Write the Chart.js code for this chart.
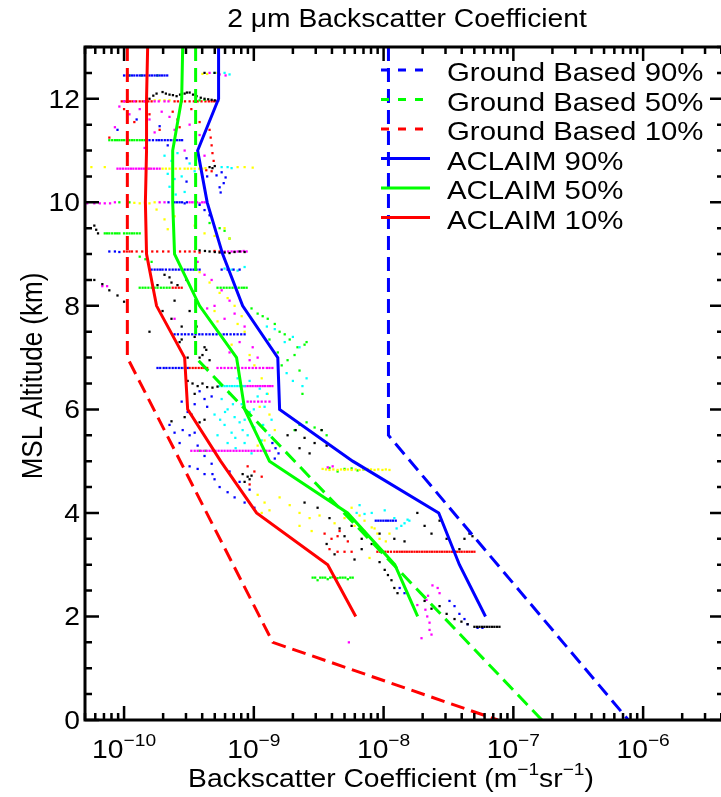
<!DOCTYPE html>
<html lang="en">
<head>
<meta charset="UTF-8" />
<title>2 µm Backscatter Coefficient</title>
<style>
    * { margin: 0; padding: 0; }
    body { width: 721px; height: 797px; overflow: hidden; background: #fff; }
    .chartBox { width: 730px; height: 797px; }
</style>
</head>
<body>
<div class="chartBox"><canvas id="myChart" width="730" height="797"></canvas></div>
<script src="https://cdn.jsdelivr.net/npm/chart.js@4.4.1/dist/chart.umd.min.js"></script>
<script>
    // altitude levels (km) of the ACLAIM profiles
    const aclaimAlt = [13, 12, 11, 10, 9, 8, 7, 6, 5, 4, 3, 2];
    const aclaim90 = [5.35e-10, 5.35e-10, 3.69e-10, 4.37e-10, 5.75e-10, 8.2e-10, 1.53e-9, 1.58e-9, 5.78e-9, 2.66e-8, 3.84e-8, 6.1e-8];
    const aclaim50 = [2.83e-10, 2.78e-10, 2.37e-10, 2.37e-10, 2.45e-10, 3.82e-10, 7.36e-10, 8.5e-10, 1.32e-9, 5.28e-9, 1.22e-8, 1.83e-8];
    const aclaim10 = [1.52e-10, 1.49e-10, 1.49e-10, 1.46e-10, 1.49e-10, 1.78e-10, 2.93e-10, 3.09e-10, 5.55e-10, 1.05e-9, 3.71e-9, 6.1e-9];

    // ground based model profiles
    const ground90Alt = [13, 5.5, 0];
    const ground90 = [1.09e-8, 1.09e-8, 7.7e-7];
    const ground50Alt = [13, 7, 0];
    const ground50 = [3.56e-10, 3.56e-10, 1.66e-7];
    const ground10Alt = [13, 7, 1.5, 0];
    const ground10 = [1.06e-10, 1.06e-10, 1.4e-9, 7.6e-8];

    const xTickLabels = ["10", "10", "10", "10", "10"];
    const xTickExps = ["\u221210", "\u22129", "\u22128", "\u22127", "\u22126"];
    const xTickValues = [1e-10, 1e-9, 1e-8, 1e-7, 1e-6];
    const yTickValues = [0, 2, 4, 6, 8, 10, 12];

    // individual flight measurements [backscatter, altitude]
    const ptsBlack = [
        [4.17e-10, 12.5], [4.98e-10, 12.5],
        [1.57e-10, 12.0], [1.78e-10, 12.1], [1.98e-10, 12.13], [2.24e-10, 12.08], [2.54e-10, 12.05], [2.93e-10, 12.1], [3.2e-10, 12.12], [3.62e-10, 12.05], [4.17e-10, 12.0], [4.73e-10, 11.98],
        [1.68e-10, 12.06], [2.1e-10, 12.1], [2.38e-10, 12.07], [2.7e-10, 12.08], [3.05e-10, 12.12], [3.4e-10, 12.08], [3.9e-10, 12.02], [4.45e-10, 11.99], [5.0e-10, 11.97], [5.3e-10, 11.96],
        [4.56e-10, 10.68], [5.0e-10, 10.7], [4.8e-10, 10.66],
        [5.9e-11, 9.55], [6.1e-11, 9.47], [6.3e-11, 9.4], [5.9e-11, 8.5], [6.8e-11, 8.42], [7.7e-11, 8.3], [8.9e-11, 8.2], [1.0e-10, 8.08],
        [3.82e-10, 9.07], [4.56e-10, 9.05], [5.45e-10, 9.03], [6.5e-10, 9.02], [7.77e-10, 9.05], [8.49e-10, 9.04],
        [4.2e-10, 9.06], [5.0e-10, 9.04], [5.95e-10, 9.03], [7.1e-10, 9.04],
        [2.05e-10, 8.6], [2.24e-10, 8.55], [1.81e-10, 8.4], [2.45e-10, 8.1], [3.2e-10, 7.9], [2.78e-10, 7.6], [3.5e-10, 7.4], [4.17e-10, 7.2], [2.68e-10, 7.3], [1.57e-10, 7.5], [3.82e-10, 7.0], [4.56e-10, 6.95],
        [1.98e-10, 7.9], [2.32e-10, 8.45], [2.58e-10, 8.4], [3.03e-10, 8.5], [3.62e-10, 7.6], [4.02e-10, 7.05], [4.3e-10, 7.15], [2.32e-10, 7.75], [2.78e-10, 7.35], [3.09e-10, 7.0],
        [3.37e-10, 6.5], [3.69e-10, 6.45], [4.02e-10, 6.5], [4.37e-10, 6.43], [4.8e-10, 6.42], [5.25e-10, 6.44], [3.5e-10, 6.3], [3.09e-10, 6.55],
        [2.93e-10, 5.85], [3.3e-10, 5.9], [3.82e-10, 5.75], [4.17e-10, 5.8], [2.32e-10, 5.77],
        [1.82e-9, 5.5], [2.1e-9, 5.6], [2.46e-9, 5.45], [2.94e-9, 5.35], [3.33e-9, 5.6], [3.64e-9, 5.3], [2.25e-9, 5.25], [2.69e-9, 5.15],
        [8.2e-10, 4.75], [8.96e-10, 4.7], [9.28e-10, 4.65], [9.6e-10, 4.72], [8.49e-10, 4.6],
        [2.46e-9, 4.2], [3.1e-9, 4.1], [3.83e-9, 3.9], [4.58e-9, 3.7], [5.67e-9, 3.75], [6.78e-9, 3.5], [8.1e-9, 3.4], [9.31e-9, 3.6], [1.21e-8, 3.5], [1.45e-8, 3.45],
        [1.82e-8, 4.0], [2.07e-8, 3.75], [2.34e-8, 3.6], [2.7e-8, 3.85], [3.06e-8, 3.5], [3.52e-8, 3.25], [4.2e-8, 3.5], [4.59e-8, 3.6], [4.84e-8, 3.55], [3.84e-8, 3.3],
        [9.31e-9, 3.05], [1.02e-8, 2.9], [1.08e-8, 2.8], [1.15e-8, 2.7], [1.21e-8, 2.55], [1.28e-8, 2.45],
        [2.07e-8, 2.3], [2.34e-8, 2.15], [2.7e-8, 2.2], [3.06e-8, 2.05], [3.52e-8, 1.95], [3.98e-8, 1.9], [4.44e-8, 1.85],
        [5.01e-8, 1.8], [5.48e-8, 1.8], [5.98e-8, 1.8], [6.54e-8, 1.8], [7.14e-8, 1.8], [7.81e-8, 1.8],
        [5.24e-8, 1.8], [5.73e-8, 1.8], [6.25e-8, 1.8], [6.84e-8, 1.8], [7.47e-8, 1.8],
        [3.64e-9, 3.4], [4.19e-9, 3.2], [5.0e-9, 3.55], [5.97e-9, 3.1], [6.78e-9, 3.3]
    ];
    const ptsBlue = [
        [1.0e-10, 12.45], [1.1e-10, 12.45], [1.2e-10, 12.45], [1.32e-10, 12.45], [1.44e-10, 12.45], [1.57e-10, 12.45], [1.72e-10, 12.45], [1.88e-10, 12.45], [2.05e-10, 12.45],
        [1.05e-10, 12.45], [1.15e-10, 12.45], [1.26e-10, 12.45], [1.38e-10, 12.45], [1.5e-10, 12.45], [1.64e-10, 12.45], [1.8e-10, 12.45], [1.96e-10, 12.45], [2.15e-10, 12.45],
        [1.57e-10, 11.2], [1.78e-10, 11.2], [1.95e-10, 11.2], [2.17e-10, 11.2], [2.41e-10, 11.2], [2.68e-10, 11.2],
        [1.5e-10, 11.2], [1.67e-10, 11.2], [1.86e-10, 11.2], [2.06e-10, 11.2], [2.29e-10, 11.2], [2.55e-10, 11.2], [2.8e-10, 11.2],
        [1.25e-10, 11.6], [1.88e-10, 11.47], [2.17e-10, 11.1], [3.03e-10, 10.85], [4.37e-10, 10.5], [8.9e-11, 11.4], [3.03e-10, 10.4],
        [5.16e-10, 10.52], [5.65e-10, 10.58], [6.06e-10, 10.48], [5.86e-10, 10.37], [5.45e-10, 10.29], [5.55e-10, 10.19],
        [2.45e-10, 10.0], [2.68e-10, 10.0], [2.93e-10, 9.98], [2.2e-10, 10.0], [2.56e-10, 10.0], [2.8e-10, 10.0], [3.05e-10, 10.0],
        [7.7e-11, 9.05], [8.5e-11, 9.05], [9.2e-11, 9.04],
        [3.82e-10, 9.95], [4.17e-10, 9.85], [4.56e-10, 9.75],
        [1.63e-10, 8.7], [1.81e-10, 8.7], [1.98e-10, 8.7], [2.24e-10, 8.7], [2.5e-10, 8.7], [2.78e-10, 8.7], [3.09e-10, 8.7], [3.43e-10, 8.7], [3.82e-10, 8.7], [5.65e-10, 8.7], [6.28e-10, 8.7], [6.98e-10, 8.7], [7.77e-10, 8.7],
        [1.72e-10, 8.7], [1.9e-10, 8.7], [2.1e-10, 8.7], [2.37e-10, 8.7], [2.64e-10, 8.7], [2.93e-10, 8.7], [3.26e-10, 8.7], [3.62e-10, 8.7],
        [2.45e-10, 7.45], [2.78e-10, 7.45], [3.14e-10, 7.45], [3.56e-10, 7.45], [4.02e-10, 7.45], [4.56e-10, 7.45], [5.16e-10, 7.45], [5.86e-10, 7.45], [6.62e-10, 7.45], [7.5e-10, 7.45], [8.49e-10, 7.45],
        [2.6e-10, 7.45], [2.95e-10, 7.45], [3.35e-10, 7.45], [3.8e-10, 7.45], [4.3e-10, 7.45], [4.85e-10, 7.45], [5.5e-10, 7.45], [6.2e-10, 7.45], [7.05e-10, 7.45], [8.0e-10, 7.45],
        [1.81e-10, 6.8], [2.02e-10, 6.8], [2.24e-10, 6.8], [2.5e-10, 6.8], [2.78e-10, 6.8], [3.09e-10, 6.8],
        [1.9e-10, 6.8], [2.12e-10, 6.8], [2.37e-10, 6.8], [2.64e-10, 6.8], [2.93e-10, 6.8],
        [2.78e-10, 6.15], [3.09e-10, 5.95], [3.5e-10, 6.1], [2.83e-10, 5.6], [3.2e-10, 5.5], [3.69e-10, 5.3], [4.17e-10, 5.1], [4.73e-10, 4.95], [4.17e-10, 4.75], [4.98e-10, 4.65],
        [5.45e-10, 4.5], [6.28e-10, 4.4], [7.11e-10, 4.3], [8.49e-10, 4.2], [1.01e-9, 4.1], [9.28e-10, 4.45], [7.77e-10, 4.6], [6.5e-10, 4.8], [3.5e-10, 5.55], [2.45e-10, 5.55],
        [2.24e-10, 5.7], [2.68e-10, 5.35], [3.2e-10, 4.9], [3.69e-10, 4.85], [4.8e-10, 4.75],
        [3.82e-10, 6.35], [4.17e-10, 6.2], [4.73e-10, 6.25], [4.37e-10, 6.05],
        [1.39e-9, 5.35], [1.47e-9, 5.25], [1.55e-9, 5.15], [1.45e-9, 5.05],
        [8.7e-9, 3.85], [9.5e-9, 3.85], [1.04e-8, 3.85], [1.13e-8, 3.85], [1.24e-8, 3.85], [9.1e-9, 3.85], [9.95e-9, 3.85], [1.08e-8, 3.85], [1.18e-8, 3.85],
        [1.33e-8, 2.55], [1.45e-8, 2.45], [3.22e-8, 2.3], [3.52e-8, 2.2], [3.84e-8, 2.05], [4.2e-8, 1.95], [4.44e-8, 1.85], [5.3e-8, 1.78], [5.78e-8, 1.78]
    ];
    const ptsCyan = [
        [4.98e-10, 12.5], [5.95e-10, 12.5], [6.5e-10, 12.47],
        [2.05e-10, 10.9], [2.32e-10, 10.8], [2.58e-10, 10.95], [2.17e-10, 10.55], [2.45e-10, 10.45], [2.78e-10, 10.5], [2.24e-10, 10.3], [2.93e-10, 10.2], [2.5e-10, 10.15], [3.2e-10, 10.75], [3.5e-10, 10.6],
        [5.65e-10, 10.68], [6.28e-10, 10.68], [6.74e-10, 10.66],
        [5.95e-10, 8.72], [6.74e-10, 8.7], [7.5e-10, 8.68], [8.49e-10, 8.75],
        [1.26e-9, 7.6], [1.45e-9, 7.55], [1.73e-9, 7.3], [2.0e-9, 7.4], [2.25e-9, 7.2], [1.79e-9, 6.7], [2.0e-9, 6.55], [2.37e-9, 6.45], [2.55e-9, 6.6],
        [5.45e-10, 6.45], [5.95e-10, 6.45], [6.5e-10, 6.45], [7.11e-10, 6.45], [7.77e-10, 6.45], [8.49e-10, 6.45],
        [5.7e-10, 6.45], [6.2e-10, 6.45], [6.8e-10, 6.45], [7.45e-10, 6.45], [8.1e-10, 6.45],
        [5.65e-10, 6.2], [6.28e-10, 6.0], [7.11e-10, 5.85], [8.06e-10, 6.1], [9.28e-10, 5.95], [1.07e-9, 6.25], [1.21e-9, 6.05], [1.37e-9, 5.8], [5.95e-10, 5.7], [6.74e-10, 5.55],
        [7.77e-10, 5.75], [8.96e-10, 5.5], [1.01e-9, 5.65], [1.15e-9, 5.4], [1.32e-9, 5.5], [6.28e-10, 5.35], [7.24e-10, 5.25], [8.49e-10, 5.35], [9.6e-10, 5.15], [4.98e-10, 5.9],
        [5.25e-10, 5.5], [6.5e-10, 6.3], [1.11e-9, 6.4], [1.26e-9, 6.3], [7.5e-10, 6.6], [9.28e-10, 6.55],
        [6.0e-10, 5.95], [6.9e-10, 6.1], [8.5e-10, 5.8], [1.0e-9, 6.0], [7.2e-10, 5.45], [8.2e-10, 5.6], [1.18e-9, 5.7], [5.5e-10, 5.8],
        [6.53e-9, 4.15], [8.1e-9, 4.0], [1.02e-8, 4.05], [1.21e-8, 3.9], [1.45e-8, 3.8], [6.2e-9, 4.0], [7.13e-9, 3.98], [1.58e-8, 3.85], [1.26e-8, 3.7], [1.37e-8, 3.75], [1.53e-8, 3.87]
    ];
    const ptsMagenta = [
        [4.56e-10, 12.5], [5.45e-10, 12.47], [6.06e-10, 12.45],
        [1.0e-10, 11.95], [1.2e-10, 11.95], [1.44e-10, 11.95], [1.72e-10, 11.95], [2.05e-10, 11.95], [1.85e-10, 11.95], [2.2e-10, 11.95],
        [9.2e-11, 11.85], [1.1e-10, 11.7], [1.32e-10, 11.8], [1.57e-10, 11.6], [1.95e-10, 11.75], [2.45e-10, 11.4], [1.72e-10, 11.35], [3.2e-10, 11.5], [3.82e-10, 11.3], [2.93e-10, 11.0],
        [1.44e-10, 11.05], [1.06e-10, 10.9], [4.17e-10, 10.9], [2.24e-10, 11.65], [8.5e-11, 11.45],
        [8.9e-11, 10.65], [9.8e-11, 10.65], [1.08e-10, 10.65], [1.18e-10, 10.65], [1.3e-10, 10.65], [1.42e-10, 10.65], [1.55e-10, 10.65], [1.7e-10, 10.65], [1.88e-10, 10.65],
        [9.35e-11, 10.65], [1.03e-10, 10.65], [1.13e-10, 10.65], [1.24e-10, 10.65], [1.36e-10, 10.65], [1.48e-10, 10.65], [1.62e-10, 10.65], [1.79e-10, 10.65],
        [5.2e-11, 9.98], [5.9e-11, 9.98], [6.5e-11, 9.98], [7.1e-11, 9.98], [7.8e-11, 9.98], [8.5e-11, 10.0],
        [1.88e-10, 10.0], [2.05e-10, 10.0], [3.2e-10, 10.0], [3.5e-10, 10.0], [3.82e-10, 9.98], [4.17e-10, 10.0], [3.35e-10, 10.0], [3.65e-10, 10.0], [4.0e-10, 10.0], [4.35e-10, 9.99],
        [5.95e-10, 9.05], [6.74e-10, 9.05], [7.5e-10, 9.05], [8.35e-10, 9.06], [6.35e-10, 9.05], [7.1e-10, 9.05], [7.95e-10, 9.05], [8.8e-10, 9.05],
        [6.8e-11, 8.38], [7.4e-11, 8.38],
        [3.69e-10, 8.85], [4.17e-10, 8.6], [4.73e-10, 8.5], [5.65e-10, 8.3], [6.5e-10, 8.1], [4.98e-10, 8.0], [7.11e-10, 7.85], [5.95e-10, 7.75], [4.37e-10, 7.95], [8.49e-10, 7.6],
        [7.77e-10, 7.3], [9.8e-10, 7.2], [1.07e-9, 7.0], [6.5e-10, 7.1], [9.28e-10, 6.95], [2.45e-10, 7.75],
        [5.25e-10, 6.8], [5.95e-10, 6.8], [6.74e-10, 6.8], [7.64e-10, 6.8], [8.65e-10, 6.8], [9.8e-10, 6.8], [1.11e-9, 6.8], [1.26e-9, 6.8], [1.39e-9, 6.8],
        [5.6e-10, 6.8], [6.35e-10, 6.8], [7.2e-10, 6.8], [8.15e-10, 6.8], [9.2e-10, 6.8], [1.04e-9, 6.8], [1.18e-9, 6.8], [1.32e-9, 6.8],
        [8.2e-10, 6.45], [8.96e-10, 6.45], [9.8e-10, 6.45], [1.07e-9, 6.45], [1.17e-9, 6.45], [1.28e-9, 6.45], [1.39e-9, 6.45],
        [8.6e-10, 6.45], [9.4e-10, 6.45], [1.03e-9, 6.45], [1.12e-9, 6.45], [1.22e-9, 6.45], [1.33e-9, 6.45],
        [8.96e-10, 6.15], [1.01e-9, 6.15], [1.15e-9, 6.15], [1.32e-9, 6.15], [9.5e-10, 6.15], [1.08e-9, 6.15], [1.23e-9, 6.15],
        [3.3e-10, 5.2], [3.69e-10, 5.2], [4.1e-10, 5.2], [4.56e-10, 5.2], [5.07e-10, 5.2], [5.65e-10, 5.2], [6.28e-10, 5.2], [6.98e-10, 5.2], [7.77e-10, 5.2], [8.65e-10, 5.2],
        [9.6e-10, 5.2], [1.07e-9, 5.2], [1.19e-9, 5.2], [1.32e-9, 5.2],
        [3.5e-10, 5.2], [3.9e-10, 5.2], [4.33e-10, 5.2], [4.8e-10, 5.2], [5.35e-10, 5.2], [5.95e-10, 5.2], [6.6e-10, 5.2], [7.35e-10, 5.2], [8.2e-10, 5.2], [9.1e-10, 5.2],
        [1.01e-9, 5.2], [1.13e-9, 5.2], [1.25e-9, 5.2],
        [3.71e-9, 4.88], [4.05e-9, 4.9],
        [1.82e-8, 2.22], [2.14e-8, 2.32], [2.61e-8, 2.55], [2.7e-8, 2.45], [2.1e-8, 2.13], [2.17e-8, 2.0], [2.26e-8, 1.88], [2.26e-8, 1.74], [2.34e-8, 1.65], [1.96e-8, 1.58],
        [2.38e-8, 2.6], [2.2e-8, 2.4],
        [5.4e-9, 1.5]
    ];
    const ptsYellow = [
        [4.02e-10, 12.48], [4.37e-10, 12.48], [5.25e-10, 12.5],
        [1.72e-10, 11.97], [1.88e-10, 11.97], [2.05e-10, 11.97], [2.24e-10, 11.97],
        [5.6e-11, 10.68], [7.1e-11, 10.68], [1.57e-10, 10.65], [2.24e-10, 10.65], [2.93e-10, 10.65], [3.5e-10, 10.65], [4.24e-10, 10.66], [7.5e-10, 10.68], [8.49e-10, 10.68], [9.8e-10, 10.67],
        [1.98e-10, 10.65], [2.1e-10, 10.65], [2.5e-10, 10.65], [2.7e-10, 10.65], [3.1e-10, 10.65], [3.3e-10, 10.65], [3.8e-10, 10.65], [4.0e-10, 10.65],
        [1.32e-10, 9.98], [1.57e-10, 9.98], [1.72e-10, 10.0], [1.2e-10, 9.99], [1.45e-10, 9.99],
        [1.78e-10, 9.86], [2.05e-10, 9.67], [2.17e-10, 9.48], [2.45e-10, 9.73],
        [3.5e-10, 9.55], [4.17e-10, 9.4], [4.98e-10, 9.35], [5.95e-10, 9.5], [6.5e-10, 9.3],
        [3.82e-10, 8.65], [4.56e-10, 8.45], [5.45e-10, 8.25], [6.28e-10, 8.15], [7.11e-10, 8.0], [8.06e-10, 7.8], [7.5e-10, 7.65], [8.49e-10, 7.5], [6.74e-10, 7.25], [9.28e-10, 7.05],
        [1.01e-9, 6.85], [1.15e-9, 6.6], [1.28e-9, 6.3], [1.11e-9, 6.05], [1.32e-9, 5.9], [1.45e-9, 5.6], [1.21e-9, 5.4], [1.07e-9, 5.3], [4.98e-10, 7.9], [5.25e-10, 7.7],
        [3.39e-9, 4.85], [3.83e-9, 4.83], [4.42e-9, 4.83], [5.0e-9, 4.83], [5.67e-9, 4.83], [6.53e-9, 4.83], [7.53e-9, 4.85], [8.52e-9, 4.83], [9.8e-9, 4.83], [1.11e-8, 4.83],
        [3.6e-9, 4.84], [4.1e-9, 4.84], [4.7e-9, 4.84], [5.3e-9, 4.84], [6.1e-9, 4.84], [7.0e-9, 4.84], [8.0e-9, 4.84], [9.1e-9, 4.84], [1.04e-8, 4.84],
        [1.07e-9, 4.35], [1.21e-9, 4.2], [1.32e-9, 4.05], [1.58e-9, 4.3], [1.89e-9, 4.15], [2.25e-9, 4.0], [2.69e-9, 3.9], [3.21e-9, 3.95], [4.19e-9, 3.8], [5.0e-9, 3.9],
        [5.97e-9, 3.75], [7.13e-9, 3.65], [8.52e-9, 3.7], [9.31e-9, 3.5], [1.11e-8, 3.6], [2.25e-9, 3.75], [2.79e-9, 3.65], [1.15e-9, 4.0],
        [5.67e-9, 4.1], [6.53e-9, 3.95], [7.13e-9, 3.85], [8.1e-9, 3.72], [8.96e-9, 3.6], [1.04e-8, 3.45], [7.79e-9, 3.13]
    ];
    const ptsGreen = [
        [1.1e-10, 12.45], [1.36e-10, 12.45], [1.81e-10, 12.45],
        [3.82e-10, 11.97], [4.17e-10, 11.98],
        [7.7e-11, 11.2], [8.5e-11, 11.2], [9.2e-11, 11.2], [1.0e-10, 11.2], [1.1e-10, 11.2], [1.2e-10, 11.2], [1.32e-10, 11.2], [1.44e-10, 11.2],
        [8.1e-11, 11.2], [8.85e-11, 11.2], [9.6e-11, 11.2], [1.05e-10, 11.2], [1.15e-10, 11.2], [1.26e-10, 11.2], [1.38e-10, 11.2],
        [9.2e-11, 10.0], [1.1e-10, 10.0],
        [7.1e-11, 9.4], [7.7e-11, 9.4], [8.5e-11, 9.4], [9.2e-11, 9.4], [1.1e-10, 9.4], [1.2e-10, 9.4], [1.32e-10, 9.4],
        [7.4e-11, 9.4], [8.1e-11, 9.4], [8.85e-11, 9.4], [1.0e-10, 9.4], [1.05e-10, 9.4], [1.15e-10, 9.4], [1.26e-10, 9.4],
        [4.56e-10, 9.6], [5.45e-10, 9.5], [5.95e-10, 9.45], [6.5e-10, 9.3],
        [1.32e-10, 8.95], [1.46e-10, 8.9], [1.63e-10, 8.85],
        [1.32e-10, 8.35], [1.46e-10, 8.35], [1.63e-10, 8.35], [1.81e-10, 8.35], [2.02e-10, 8.35], [2.24e-10, 8.35], [5.25e-10, 8.35], [5.86e-10, 8.35], [6.5e-10, 8.35], [7.24e-10, 8.35],
        [8.06e-10, 8.35], [8.8e-10, 8.35],
        [1.39e-10, 8.35], [1.54e-10, 8.35], [1.72e-10, 8.35], [1.92e-10, 8.35], [2.13e-10, 8.35], [5.55e-10, 8.35], [6.17e-10, 8.35], [6.85e-10, 8.35], [7.65e-10, 8.35], [8.4e-10, 8.35],
        [9.6e-10, 7.95], [1.07e-9, 7.85], [1.17e-9, 7.8], [1.28e-9, 7.75], [1.45e-9, 7.65], [1.58e-9, 7.5], [1.73e-9, 7.45], [1.89e-9, 7.35], [2.17e-9, 7.2], [2.46e-9, 7.25],
        [2.06e-9, 7.05], [1.82e-9, 6.95], [1.64e-9, 6.85], [2.25e-9, 6.75], [1.53e-9, 7.1], [1.32e-9, 7.35], [2.37e-9, 6.3], [2.55e-9, 7.3],
        [2.25e-9, 5.7], [2.55e-9, 5.75], [2.94e-9, 5.65], [3.33e-9, 5.6], [3.64e-9, 5.5], [2.06e-9, 5.6],
        [3.82e-10, 5.2], [4.24e-10, 5.2],
        [3.83e-9, 4.87], [4.42e-9, 4.8], [5.0e-9, 4.85], [5.67e-9, 4.86], [6.3e-9, 4.82], [7.0e-9, 4.84],
        [2.84e-9, 2.75], [3.1e-9, 2.7], [3.39e-9, 2.75], [3.71e-9, 2.72], [4.05e-9, 2.76], [4.42e-9, 2.74], [4.84e-9, 2.75], [5.3e-9, 2.72], [5.78e-9, 2.75],
        [2.97e-9, 2.75], [3.25e-9, 2.75], [3.55e-9, 2.75], [3.88e-9, 2.75], [4.23e-9, 2.75], [4.63e-9, 2.75], [5.07e-9, 2.75], [5.54e-9, 2.75]
    ];
    const ptsRed = [
        [9.6e-11, 11.95], [1.06e-10, 11.95], [1.16e-10, 11.95], [1.32e-10, 11.95], [1.46e-10, 11.95], [1.63e-10, 11.95], [2.45e-10, 11.95], [2.78e-10, 11.95], [3.2e-10, 11.95],
        [3.69e-10, 11.95], [4.24e-10, 11.95], [4.73e-10, 11.95], [5.16e-10, 11.95],
        [1.01e-10, 11.95], [1.11e-10, 11.95], [1.24e-10, 11.95], [1.39e-10, 11.95], [1.54e-10, 11.95], [2.6e-10, 11.95], [2.95e-10, 11.95], [3.45e-10, 11.95], [3.95e-10, 11.95],
        [4.5e-10, 11.95], [4.95e-10, 11.95],
        [1.0e-10, 11.8], [1.2e-10, 11.55], [1.57e-10, 11.7], [1.88e-10, 11.4], [2.58e-10, 11.6], [3.3e-10, 11.8], [3.82e-10, 11.55], [4.56e-10, 11.4], [4.65e-10, 11.25],
        [4.73e-10, 11.1], [4.8e-10, 10.95], [4.9e-10, 10.8], [7.7e-11, 11.25], [2.37e-10, 11.75], [2.68e-10, 11.45],
        [4.3e-10, 10.62], [4.73e-10, 10.6],
        [1.0e-10, 9.05], [1.1e-10, 9.05], [3.2e-10, 9.05], [3.5e-10, 9.05], [3.82e-10, 9.03], [4.98e-10, 9.06], [5.45e-10, 9.05],
        [1.05e-10, 9.05], [1.15e-10, 9.05], [1.25e-10, 9.05], [1.38e-10, 9.05], [1.5e-10, 9.05], [1.65e-10, 9.05], [1.8e-10, 9.05], [2.0e-10, 9.05], [2.2e-10, 9.05],
        [2.45e-10, 9.05], [2.7e-10, 9.05], [2.95e-10, 9.05],
        [2.5e-10, 8.35], [2.78e-10, 8.35], [2.37e-10, 8.35], [2.64e-10, 8.35],
        [3.2e-10, 6.8], [3.56e-10, 6.8], [3.96e-10, 6.8], [4.37e-10, 6.8], [3.38e-10, 6.8], [3.76e-10, 6.8], [4.15e-10, 6.8],
        [8.96e-10, 4.9], [1.01e-9, 4.8], [1.15e-9, 4.7], [9.28e-10, 4.55],
        [3.51e-9, 3.6], [3.97e-9, 3.5], [4.58e-9, 3.65], [5.3e-9, 3.45], [3.83e-9, 3.3], [4.42e-9, 3.55],
        [4.42e-9, 3.25], [5.0e-9, 3.25], [5.67e-9, 3.25],
        [8.96e-9, 3.25], [9.8e-9, 3.25], [1.08e-8, 3.25], [1.21e-8, 3.25], [1.33e-8, 3.25], [1.45e-8, 3.25], [1.58e-8, 3.25], [1.73e-8, 3.25], [1.89e-8, 3.25], [2.07e-8, 3.25],
        [2.26e-8, 3.25], [2.47e-8, 3.25], [2.7e-8, 3.25], [2.95e-8, 3.25], [3.22e-8, 3.25], [3.52e-8, 3.25], [3.84e-8, 3.25], [4.2e-8, 3.25], [4.59e-8, 3.25], [5.01e-8, 3.25],
        [9.4e-9, 3.25], [1.03e-8, 3.25], [1.14e-8, 3.25], [1.27e-8, 3.25], [1.39e-8, 3.25], [1.51e-8, 3.25], [1.65e-8, 3.25], [1.81e-8, 3.25], [1.98e-8, 3.25], [2.16e-8, 3.25],
        [2.36e-8, 3.25], [2.58e-8, 3.25], [2.82e-8, 3.25], [3.08e-8, 3.25], [3.37e-8, 3.25], [3.68e-8, 3.25], [4.0e-8, 3.25], [4.4e-8, 3.25], [4.8e-8, 3.25]
    ];

    const FONT = '"Liberation Sans", Arial, Helvetica, sans-serif';
    const STRETCH = 1.13;

    const toXY = (xs, ys) => xs.map((v, i) => ({ x: v, y: ys[i] }));
    const toPts = (arr) => arr.map(p => ({ x: p[0], y: p[1] }));

    const scatterSet = (label, arr, color) => ({
        label: label,
        data: toPts(arr),
        showLine: false,
        pointStyle: "rect",
        pointRadius: 1.6,
        pointBorderWidth: 0,
        pointBackgroundColor: color,
        borderColor: color,
        order: 2
    });

    const lineSet = (label, xs, ys, color, dashed) => ({
        label: label,
        data: toXY(xs, ys),
        showLine: true,
        borderColor: color,
        borderWidth: 3,
        borderDash: dashed ? [14, 7] : [],
        pointRadius: 0,
        fill: false,
        tension: 0,
        order: 1
    });

    const legendItems = [
        { text: "Ground Based 90%", color: "#0000ff", dashed: true },
        { text: "Ground Based 50%", color: "#00ff00", dashed: true },
        { text: "Ground Based 10%", color: "#ff0000", dashed: true },
        { text: "ACLAIM 90%", color: "#0000ff", dashed: false },
        { text: "ACLAIM 50%", color: "#00ff00", dashed: false },
        { text: "ACLAIM 10%", color: "#ff0000", dashed: false }
    ];

    // draws text stretched horizontally, like the original IDL output
    function stretchText(ctx, str, x, y, size, align) {
        ctx.save();
        ctx.font = size + "px " + FONT;
        const w = ctx.measureText(str).width * STRETCH;
        let x0 = x;
        if (align === "center") x0 = x - w / 2;
        if (align === "right") x0 = x - w;
        ctx.translate(x0, y);
        ctx.scale(STRETCH, 1);
        ctx.textAlign = "left";
        ctx.textBaseline = "alphabetic";
        ctx.fillText(str, 0, 0);
        ctx.restore();
        return w;
    }

    // text with superscripts: segments [text, isSup]
    function richText(ctx, segs, x, y, size, supSize, rise, align) {
        ctx.save();
        let total = 0;
        const widths = segs.map(s => {
            ctx.font = (s[1] ? supSize : size) + "px " + FONT;
            const w = ctx.measureText(s[0]).width * STRETCH;
            total += w;
            return w;
        });
        ctx.restore();
        let cx = align === "center" ? x - total / 2 : x;
        segs.forEach((s, i) => {
            stretchText(ctx, s[0], cx, s[1] ? y - rise : y, s[1] ? supSize : size, "left");
            cx += widths[i];
        });
    }

    const framePlugin = {
        id: "frame",
        afterDraw(chart) {
            const ctx = chart.ctx;
            const a = chart.chartArea;
            const xs = chart.scales.x;
            const ys = chart.scales.y;
            ctx.save();
            ctx.fillStyle = "#000";
            ctx.strokeStyle = "#000";

            // ticks
            ctx.lineWidth = 2.5;
            ctx.beginPath();
            for (let e = -11; e <= -6; e++) {
                for (let k = 1; k <= 9; k++) {
                    const v = Number(k + "e" + e);
                    if (v < xs.min || v > xs.max) continue;
                    const px = xs.getPixelForValue(v);
                    const len = k === 1 ? 14 : 7;
                    ctx.moveTo(px, a.bottom); ctx.lineTo(px, a.bottom - len);
                    ctx.moveTo(px, a.top); ctx.lineTo(px, a.top + len);
                }
            }
            for (let v = 0; v <= 13; v += 0.5) {
                const py = ys.getPixelForValue(v);
                const len = v % 2 === 0 ? 14 : 7;
                ctx.moveTo(a.left, py); ctx.lineTo(a.left + len, py);
                ctx.moveTo(a.right, py); ctx.lineTo(a.right - len, py);
            }
            ctx.stroke();

            // frame
            ctx.lineWidth = 3;
            ctx.strokeRect(a.left, a.top, a.right - a.left, a.bottom - a.top);

            // y tick labels
            yTickValues.forEach(v => {
                stretchText(ctx, String(v), 80, ys.getPixelForValue(v) + 9, 25, "right");
            });
            // x tick labels
            xTickValues.forEach((v, i) => {
                richText(ctx, [[xTickLabels[i], false], [xTickExps[i], true]], xs.getPixelForValue(v), 758, 25, 17, 12, "center");
            });

            // titles
            stretchText(ctx, "2 \u03bcm Backscatter Coefficient", 407, 27, 25, "center");
            richText(ctx, [["Backscatter Coefficient (m", false], ["\u22121", true], ["sr", false], ["\u22121", true], [")", false]], 391, 787, 25, 17, 12, "center");

            ctx.save();
            ctx.translate(42, 376);
            ctx.rotate(-Math.PI / 2);
            ctx.font = "26px " + FONT;
            ctx.scale(1, STRETCH);
            ctx.textAlign = "center";
            ctx.fillText("MSL Altitude (km)", 0, 0);
            ctx.restore();

            // legend
            legendItems.forEach((it, i) => {
                const ry = 70 + i * 29.5;
                ctx.save();
                ctx.strokeStyle = it.color;
                ctx.lineWidth = 3;
                ctx.setLineDash(it.dashed ? [8, 9] : []);
                ctx.beginPath();
                ctx.moveTo(381, ry); ctx.lineTo(430, ry);
                ctx.stroke();
                ctx.restore();
                stretchText(ctx, it.text, 447, ry + 11, 26, "left");
            });
            ctx.restore();
        }
    };

    const data = {
        datasets: [
            lineSet("Ground Based 90%", ground90, ground90Alt, "#0000ff", true),
            lineSet("Ground Based 50%", ground50, ground50Alt, "#00ff00", true),
            lineSet("Ground Based 10%", ground10, ground10Alt, "#ff0000", true),
            lineSet("ACLAIM 90%", aclaim90, aclaimAlt, "#0000ff", false),
            lineSet("ACLAIM 50%", aclaim50, aclaimAlt, "#00ff00", false),
            lineSet("ACLAIM 10%", aclaim10, aclaimAlt, "#ff0000", false),
            scatterSet("black", ptsBlack, "#000000"),
            scatterSet("blue", ptsBlue, "#0000ff"),
            scatterSet("cyan", ptsCyan, "#00ffff"),
            scatterSet("magenta", ptsMagenta, "#ff00ff"),
            scatterSet("yellow", ptsYellow, "#ffff00"),
            scatterSet("green", ptsGreen, "#00ff00"),
            scatterSet("red", ptsRed, "#ff0000")
        ]
    };

    const options = {
        responsive: false,
        animation: false,
        devicePixelRatio: 1,
        layout: {
            padding: { left: 85, top: 47, right: 6, bottom: 77 }
        },
        scales: {
            x: { type: "logarithmic", min: 5e-11, max: 4.2e-6, display: false },
            y: { type: "linear", min: 0, max: 13, display: false }
        },
        plugins: {
            legend: { display: false },
            tooltip: { enabled: false }
        }
    };

    const ctx = document.getElementById("myChart").getContext("2d");
    const myChart = new Chart(ctx, {
        type: "scatter",
        data: data,
        options: options,
        plugins: [framePlugin]
    });
</script>
</body>
</html>
